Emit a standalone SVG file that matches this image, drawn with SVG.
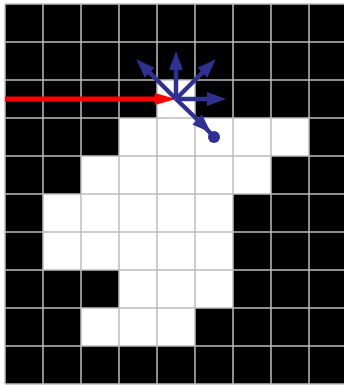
<svg xmlns="http://www.w3.org/2000/svg" width="344" height="385" viewBox="0 0 344 385">
<defs>
<style>
.b{fill:#000}
.w{fill:#fff}
.g{stroke:#bdbdbd;stroke-width:1.5;fill:none}
.blue{stroke:#2e3192;stroke-width:4.5;fill:none}
</style>
<marker id="bh" markerUnits="userSpaceOnUse" markerWidth="20" markerHeight="16" viewBox="0 -8 20 16" refX="8" refY="0" orient="auto"><path d="M0,-7 L19,0 L0,7 z" fill="#2e3192"/></marker>
<marker id="rh" markerUnits="userSpaceOnUse" markerWidth="24" markerHeight="16" viewBox="0 -8 24 16" refX="0" refY="0" orient="auto"><path d="M0,-6 L21,0 L0,6 z" fill="#ff0000"/></marker>
</defs>
<rect width="344" height="385" fill="#fff"/>
<g id="grid">
<rect class="b" x="5" y="4" width="342" height="380"/>
<rect class="w" x="157" y="80" width="38" height="38"/>
<rect class="w" x="119" y="118" width="190" height="38"/>
<rect class="w" x="81" y="156" width="190" height="38"/>
<rect class="w" x="43" y="194" width="190" height="76"/>
<rect class="w" x="119" y="270" width="114" height="38"/>
<rect class="w" x="81" y="308" width="114" height="38"/>
<path class="g" d="M5,4V384M43,4V384M81,4V384M119,4V384M157,4V384M195,4V384M233,4V384M271,4V384M309,4V384M5,4H347M5,42H347M5,80H347M5,118H347M5,156H347M5,194H347M5,232H347M5,270H347M5,308H347M5,346H347M5,384H347"/>
</g>
<g id="connectors">
<line x1="5" y1="99" x2="155" y2="99" stroke="#ff0000" stroke-width="5" marker-end="url(#rh)"/>
<line class="blue" x1="176" y1="99" x2="176" y2="62" marker-end="url(#bh)"/>
<line class="blue" x1="176" y1="99" x2="144" y2="67" marker-end="url(#bh)"/>
<line class="blue" x1="176" y1="99" x2="208" y2="67" marker-end="url(#bh)"/>
<line class="blue" x1="176" y1="99" x2="215" y2="99" marker-end="url(#bh)"/>
<line class="blue" x1="176" y1="99" x2="203" y2="125" marker-end="url(#bh)"/>
<line class="blue" x1="200" y1="122" x2="214" y2="137"/>
<circle cx="214" cy="137" r="6" fill="#2e3192"/>
</g>
</svg>
